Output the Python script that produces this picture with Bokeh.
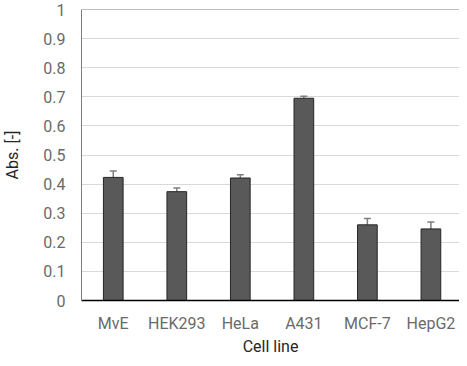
from bokeh.plotting import figure
from bokeh.models import Range1d, FixedTicker, Span, ColumnDataSource, Whisker, TeeHead
from bokeh.embed import file_html
from bokeh.resources import INLINE

categories = ["MvE", "HEK293", "HeLa", "A431", "MCF-7", "HepG2"]
values = [0.423, 0.374, 0.421, 0.695, 0.260, 0.246]
errors = [0.022, 0.013, 0.011, 0.007, 0.022, 0.024]
y_ticks = [0, 0.1, 0.2, 0.3, 0.4, 0.5, 0.6, 0.7, 0.8, 0.9, 1]
y_tick_labels = ["0", "0.1", "0.2", "0.3", "0.4", "0.5", "0.6", "0.7", "0.8", "0.9", "1"]

xs = [i + 0.5 for i in range(len(categories))]
src = ColumnDataSource(dict(
    x=xs, top=values, upper=[v + e for v, e in zip(values, errors)]
))

p = figure(width=459, height=358, output_backend="svg", toolbar_location=None,
           x_range=Range1d(0, len(categories) - 0.05), y_range=Range1d(0, 1),
           min_border_left=70, min_border_top=9, min_border_right=0, min_border_bottom=50)
p.outline_line_color = None
p.background_fill_color = "white"
p.border_fill_color = "white"

p.vbar(x="x", top="top", width=0.31, source=src, fill_color="#595959",
       line_color="#262626", line_width=1)
w = Whisker(base="x", lower="top", upper="upper", source=src, line_color="#7f7f7f",
            line_width=1.5, lower_head=None,
            upper_head=TeeHead(size=7, line_color="#7f7f7f", line_width=1.5))
p.add_layout(w)

p.add_layout(Span(location=1, dimension="width", line_color="#7f7f7f", line_width=1))

# grid
p.xgrid.grid_line_color = None
p.ygrid.grid_line_color = "#d9d9d9"
p.ygrid.grid_line_width = 1
p.yaxis.ticker = FixedTicker(ticks=y_ticks)
p.yaxis.major_label_overrides = {t: l for t, l in zip(y_ticks, y_tick_labels)}
p.xaxis.ticker = FixedTicker(ticks=xs)
p.xaxis.major_label_overrides = {x: c for x, c in zip(xs, categories)}

for ax in (p.xaxis, p.yaxis):
    ax.major_tick_line_color = None
    ax.minor_tick_line_color = None
    ax.major_tick_in = 0
    ax.major_tick_out = 0
    ax.minor_tick_in = 0
    ax.minor_tick_out = 0
    ax.major_label_text_font = "Roboto"
    ax.major_label_text_font_size = "16px"
    ax.major_label_text_color = "#6a6a6a"
    ax.axis_label_text_font = "Roboto"
    ax.axis_label_text_font_size = "16px"
    ax.axis_label_text_font_style = "normal"
    ax.axis_label_text_color = "#262626"

p.yaxis.axis_line_color = "#7f7f7f"
p.yaxis.axis_line_width = 1
p.yaxis.major_label_standoff = 16
p.yaxis.axis_label = "Abs. [-]"
p.yaxis.axis_label_standoff = 18

p.xaxis.axis_line_color = "#000000"
p.xaxis.axis_line_width = 1.5
p.xaxis.major_label_standoff = 13
p.xaxis.axis_label = "Cell line"
p.xaxis.axis_label_standoff = 1

open("out.html", "w").write(file_html(p, INLINE))
